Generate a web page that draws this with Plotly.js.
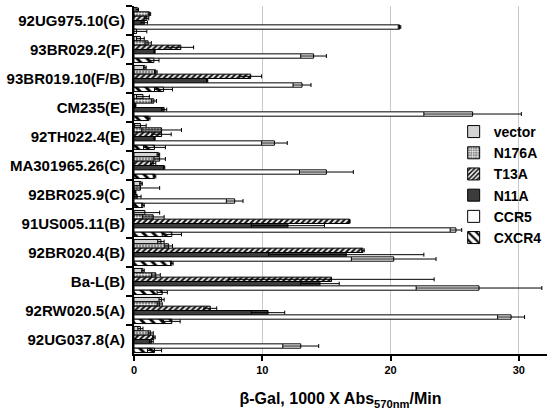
<!DOCTYPE html>
<html>
<head>
<meta charset="utf-8">
<script src="https://cdn.plot.ly/plotly-3.0.1.min.js"></script>
<style>
html,body{margin:0;padding:0;background:#fff;}
#chart{width:554px;height:413px;}
</style>
</head>
<body>
<div id="chart"></div>
<script>
// Categories, top to bottom
var categories = ["92UG975.10(G)","93BR029.2(F)","93BR019.10(F/B)","CM235(E)","92TH022.4(E)","MA301965.26(C)","92BR025.9(C)","91US005.11(B)","92BR020.4(B)","Ba-L(B)","92RW020.5(A)","92UG037.8(A)"];

var vector    = [0.25, 0.5, 0.85, 0.7, 0.5, 1.9, 0.55, 0.85, 2.1, 0.7, 2.15, 0.5];
var vectorErr = [0.1, 0.3, 0.1, 0.5, 0.45, 0.1, 0.1, 1.15, 0.25, 0.1, 0.2, 0.2];

var n176a    = [1.2, 1.1, 1.7, 1.55, 2.15, 2.0, 0.5, 1.5, 2.7, 1.7, 2.0, 1.3];
var n176aErr = [0.1, 0.25, 0.1, 0.2, 1.55, 0.45, 1.5, 0.85, 0.3, 0.35, 0.2, 0.2];

var t13a    = [1.0, 3.65, 9.1, 0.1, 2.15, 1.5, 0.1, 16.8, 17.85, 15.4, 5.95, 1.55];
var t13aErr = [0.15, 1.0, 0.85, 0.05, 0.75, 0.2, 0.05, 0.05, 0.1, 8.0, 0.5, 0.1];

var n11a    = [0.8, 1.6, 5.7, 2.35, 1.6, 2.35, 0.25, 12.0, 16.55, 14.5, 10.45, 1.35];
var n11aErr = [0.25, 0.05, 0.05, 0.2, 0.05, 0.05, 0.3, 2.85, 6.05, 1.5, 1.3, 0.15];

var ccr5    = [20.7, 14.0, 13.1, 26.4, 10.95, 15.0, 7.85, 25.1, 20.25, 26.9, 29.4, 13.0];
var ccr5Err = [0.1, 1.0, 0.7, 3.8, 1.0, 2.1, 0.65, 0.45, 3.3, 4.9, 1.05, 1.4];

var cxcr4    = [0.2, 1.55, 2.3, 1.15, 1.6, 1.6, 0.7, 2.95, 2.95, 2.2, 2.95, 1.6];
var cxcr4Err = [0.8, 0.4, 0.7, 0.1, 0.85, 0.1, 0.1, 0.75, 0.1, 0.4, 0.65, 0.55];

var seriesNames = ["vector","N176A","T13A","N11A","CCR5","CXCR4"];

function err(a){
  return {type:'data', array:a, visible:true, color:'#000', thickness:1, width:2};
}
function bar(name, x, e, marker){
  return {type:'bar', orientation:'h', name:name, x:x, y:categories,
          error_x:err(e), marker:marker, hoverinfo:'x+name'};
}
var line = {color:'#000', width:1};
var traces = [
  bar(seriesNames[0], vector, vectorErr, {color:'#d4d4d4', line:line}),
  bar(seriesNames[1], n176a, n176aErr, {color:'#8a8a8a', line:line,
      pattern:{shape:'+', fgcolor:'#ffffff', bgcolor:'#8a8a8a', size:3, solidity:0.35}}),
  bar(seriesNames[2], t13a, t13aErr, {color:'#222', line:line,
      pattern:{shape:'/', fgcolor:'#1a1a1a', bgcolor:'#ffffff', size:4, solidity:0.55}}),
  bar(seriesNames[3], n11a, n11aErr, {color:'#3c3c3c', line:line}),
  bar(seriesNames[4], ccr5, ccr5Err, {color:'#ffffff', line:line}),
  bar(seriesNames[5], cxcr4, cxcr4Err, {color:'#fff', line:line,
      pattern:{shape:'\\', fgcolor:'#000', bgcolor:'#ffffff', size:7, solidity:0.4}})
];

var fam = 'Liberation Sans, Arial, Helvetica, sans-serif';
var layout = {
  width:554, height:413,
  margin:{l:134, r:7, t:6, b:59, autoexpand:false},
  paper_bgcolor:'#fff', plot_bgcolor:'#fff',
  barmode:'group', bargap:0.1, bargroupgap:0,
  font:{family:fam, color:'#000'},
  showlegend:true,
  legend:{x:0.774, y:0.684, xanchor:'left', yanchor:'top', bgcolor:'rgba(0,0,0,0)',
          font:{family:fam, size:14, weight:700, color:'#000'}, itemwidth:30},
  xaxis:{range:[0,32.2], dtick:10, tick0:0, showgrid:true, gridcolor:'#c8c8c8', gridwidth:1,
         zeroline:false, showline:true, linecolor:'#000', linewidth:2,
         ticks:'outside', ticklen:5, tickwidth:2, tickcolor:'#000',
         tickfont:{family:fam, size:11, weight:700},
         title:{text:'β-Gal, 1000 X Abs<sub>570nm</sub>/Min', standoff:18,
                font:{family:fam, size:16, weight:700}}},
  yaxis:{type:'category', autorange:'reversed', showgrid:false, zeroline:false,
         showline:true, linecolor:'#000', linewidth:2,
         ticks:'outside', tickson:'boundaries', ticklen:6, tickwidth:2, tickcolor:'#000',
         ticklabelstandoff:4,
         tickfont:{family:fam, size:15, weight:700}}
};

Plotly.newPlot('chart', traces, layout, {displayModeBar:false, staticPlot:true});
</script>
</body>
</html>
